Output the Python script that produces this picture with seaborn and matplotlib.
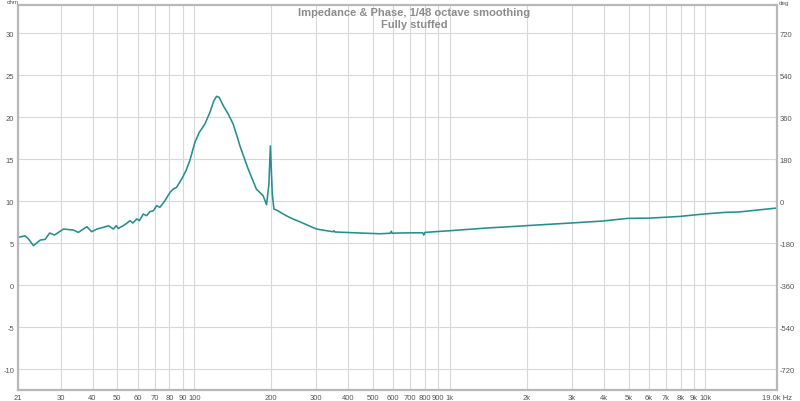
import matplotlib
matplotlib.use("Agg")
import matplotlib.pyplot as plt
import seaborn as sns

# ---- data ----
freq_hz = [20.5, 21.8, 22.5, 23.5, 25, 26.1, 27.2, 28.4, 30.8, 33.7, 35.2, 38, 39.7, 41.6,
           44.1, 46.2, 48.3, 49.5, 50.5, 52.8, 54.4, 56.1, 57.5, 59.6, 61, 63.2, 65.1, 67.1,
           69.2, 71.3, 73.4, 76.8, 80.4, 82.8, 85.3, 89.3, 93.0, 96.2, 100.6, 104.6, 110.1, 115.2,
           119.4, 122.3, 125.2, 129.8, 135.8, 142, 148.6, 150.9, 162.6, 175, 186, 191.8,
           195.9, 198.6, 202, 205, 210, 229, 243.6, 258.7, 300.6, 349, 352, 355, 443, 532,
           585, 590, 595, 635, 783, 791, 799, 998, 1390, 1874, 1983, 2985, 3953, 4948, 6040,
           7910, 9850, 12000, 13500, 19000]
impedance_ohm = [5.71, 5.9, 5.5, 4.72, 5.39, 5.47, 6.23, 5.99, 6.7, 6.58, 6.3, 6.98, 6.38, 6.7,
                 6.9, 7.1, 6.7, 7.1, 6.78, 7.1, 7.38, 7.7, 7.42, 7.9, 7.7, 8.49, 8.29, 8.77,
                 8.88, 9.48, 9.29, 10.07, 11.07, 11.46, 11.67, 12.65, 13.7, 14.9, 17.02, 18.2, 19.2, 20.6,
                 21.98, 22.5, 22.38, 21.4, 20.4, 19.2, 17.3, 16.6, 13.85, 11.46, 10.67, 9.6,
                 12.0, 16.6, 10.9, 9.08, 8.96, 8.29, 7.89, 7.57, 6.7, 6.38, 6.5, 6.35, 6.23, 6.14,
                 6.2, 6.43, 6.2, 6.23, 6.26, 5.99, 6.3, 6.5, 6.82, 7.05, 7.1, 7.42, 7.65, 7.97, 8.0,
                 8.2, 8.49, 8.69, 8.73, 9.2]

x_ticks = [20.5, 30, 40, 50, 60, 70, 80, 90, 100, 200, 300, 400, 500, 600, 700, 800, 900,
           1000, 2000, 3000, 4000, 5000, 6000, 7000, 8000, 9000, 10000, 19000]
x_tick_labels = ["21", "30", "40", "50", "60", "70", "80", "90", "100", "200", "300", "400",
                 "500", "600", "700", "800", "900", "1k", "2k", "3k", "4k", "5k", "6k", "7k",
                 "8k", "9k", "10k", "19.0k Hz"]
ohm_ticks = [-10, -5, 0, 5, 10, 15, 20, 25, 30]
deg_ticks = [-720, -540, -360, -180, 0, 180, 360, 540, 720]

title_line1 = "Impedance & Phase, 1/48 octave smoothing"
title_line2 = "Fully stuffed"

assert len(freq_hz) == len(impedance_ohm)

sns.set_style("white")
plt.rcParams["font.family"] = ["Liberation Sans", "DejaVu Sans"]

fig = plt.figure(figsize=(8, 4.02), dpi=100)
ax = fig.add_axes([18.3 / 800, 1 - 391 / 402, (776.7 - 18.3) / 800, (391 - 6) / 402])

line_color = "#23908f"
grid_color = "#d8d8d8"
spine_color = "#b8b8b8"
tick_color = "#555555"

sns.lineplot(x=freq_hz, y=impedance_ohm, ax=ax, color=line_color, linewidth=1.15,
             estimator=None, sort=False)

ax.set_xscale("log")
ax.set_xlim(20.5, 19000)
ax.set_ylim(-12.46, 33.37)
ax.set_xticks(x_ticks)
ax.set_xticklabels(x_tick_labels)
ax.xaxis.set_minor_locator(matplotlib.ticker.NullLocator())
ax.set_yticks(ohm_ticks)
ax.set_yticklabels([str(t) for t in ohm_ticks])
ax.grid(True, which="major", color=grid_color, linewidth=0.8)
ax.set_axisbelow(True)
ax.tick_params(axis="both", length=0, labelsize=5.5, labelcolor=tick_color)
ax.tick_params(axis="x", pad=3)
ax.tick_params(axis="y", pad=3)
ax.set_xlabel("")
ax.set_ylabel("")
for s in ax.spines.values():
    s.set_color(spine_color)
    s.set_linewidth(1.6)

ax2 = ax.twinx()
ax2.set_ylim((-12.46 - 10) * 36, (33.37 - 10) * 36)
ax2.set_yticks(deg_ticks)
ax2.set_yticklabels([str(t) for t in deg_ticks])
ax2.tick_params(axis="y", length=0, labelsize=5.5, labelcolor=tick_color, pad=2)
for s in ax2.spines.values():
    s.set_visible(False)

fig.text(13 / 800, 1 - 3 / 402, "ohm", fontsize=4.5, color=tick_color, ha="center", va="center")
fig.text(784 / 800, 1 - 3 / 402, "deg", fontsize=4.5, color=tick_color, ha="center", va="center")

fig.text(414 / 800, 1 - 13.5 / 402, title_line1, fontsize=8, fontweight="bold",
         color="#8c8c8c", ha="center", va="center")
fig.text(414 / 800, 1 - 24.5 / 402, title_line2, fontsize=8, fontweight="bold",
         color="#8c8c8c", ha="center", va="center")

fig.savefig("out.png", dpi=100)
